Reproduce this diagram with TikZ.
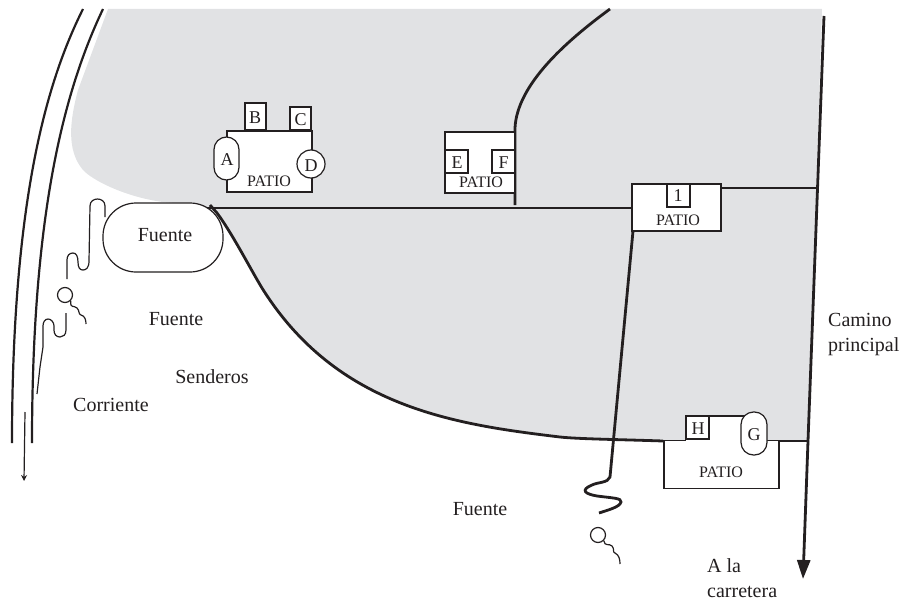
\documentclass[tikz,border=0pt]{standalone}
\usepackage{fontspec}
\setmainfont{Liberation Serif}
\usetikzlibrary{arrows.meta}
\definecolor{areagray}{HTML}{E1E2E4}
\definecolor{ink}{HTML}{231F20}
\tikzset{
  x=1pt,y=-1pt,
  lbl/.style={inner sep=0pt,text=ink,font=\fontsize{20}{24}\selectfont},
  sm/.style={inner sep=0pt,text=ink,font=\fontsize{16}{18}\selectfont},
  let/.style={inner sep=0pt,text=ink,font=\fontsize{18}{20}\selectfont},
  road/.style={draw=ink,line width=2.8pt},
  thin path/.style={draw=ink,line width=1.2pt},
  box/.style={draw=ink,line width=1.2pt,fill=white},
}
\begin{document}
\begin{tikzpicture}
\useasboundingbox (0,0) rectangle (902,602);
\fill[areagray] (217,213) .. controls (232,233) and (251,270) .. (262,288)
  .. controls (337,408) and (456,424.5) .. (560,437)
  .. controls (578,439) and (620,439.5) .. (663,441)
  -- (808,441) -- (822,9) -- (108,9) -- (78,90)
  .. controls (70,120) and (66,150) .. (83,170)
  .. controls (92,180) and (125,197) .. (163,202) -- (200,205) -- cycle;
% stream
\draw[road,line width=2.2pt] (83,9) .. controls (50,75) and (12,190) .. (12,443);
\draw[road,line width=2.2pt] (103,9) .. controls (62,95) and (32,220) .. (32,443);
\coordinate (streamS) at (25,412);
\coordinate (streamE) at (24,481);
\draw[thin path,-{Stealth[length=6pt,width=6pt]}] (streamS) -- (streamE);
% roads
\coordinate (rdTop) at (824,16);
\coordinate (rdJoin) at (808,441);
\coordinate (rdEnd) at (803,579);
\draw[road] (rdTop) -- (rdJoin);
\draw[road,-{Triangle[length=19pt,width=13pt]}] (rdJoin) -- (rdEnd);
\draw[road] (210,205) -- (217,213) .. controls (232,233) and (251,270) .. (262,288)
  .. controls (337,408) and (456,424.5) .. (560,437)
  .. controls (578,439) and (620,439.5) .. (663,441);
\draw[road] (779,441) -- (rdJoin);
\draw[road] (205,208) -- (633,208);
\draw[road] (721,188) -- (818,188);
\draw[road] (515,205) -- (515,128) .. controls (517,85) and (565,42) .. (610,9);
\draw[road] (633,231) -- (610,477) .. controls (608,483) and (598,482) .. (592,485)
  .. controls (580,490) and (585,494) .. (597,496)
  .. controls (612,498) and (622,498) .. (621,502)
  .. controls (620,507) and (608,510) .. (599,513);
% thin paths
\draw[thin path] (105,217) -- (105,206) .. controls (105,201) and (101,199) .. (97.5,199)
  .. controls (94,199) and (90,201) .. (90,206) -- (89,261) .. controls (89,268) and (86,270) .. (83,270)
  .. controls (80,270) and (78,268) .. (78,262) .. controls (78,256) and (76,253) .. (73,253)
  .. controls (69,253) and (67,256) .. (67,260) -- (67,279);
\draw[thin path] (66,313) -- (66,330) .. controls (66,335) and (63,337) .. (60,337)
  .. controls (56,337) and (54,334) .. (54,330) -- (54,326)
  .. controls (54,322) and (51,319) .. (48,319) .. controls (45,319) and (43,322) .. (43,326)
  -- (43,347) -- (40,367) -- (37,394);
% walkers
\node[circle,draw=ink,line width=1.2pt,minimum size=15pt,inner sep=0pt] (w1) at (65,295) {};
\draw[thin path] (w1.south east) .. controls (70,309) and (74,305) .. (77,308)
  .. controls (80,311) and (78,314) .. (81,315) .. controls (85,316) and (86,320) .. (86,324);
\node[circle,draw=ink,line width=1.2pt,minimum size=15pt,inner sep=0pt] (w2) at (598,535) {};
\draw[thin path] (w2.south east) .. controls (605,547) and (609,543) .. (612,546)
  .. controls (615,549) and (612,552) .. (615,553) .. controls (619,555) and (620,559) .. (620,564);
% fountain
\node[box,rounded corners=33pt,minimum width=120pt,minimum height=69pt,inner sep=0pt] (fuente) at (163,237.5) {};
\node[lbl] at (165,235) {Fuente};
% patio AD
\node[box,minimum width=85pt,minimum height=61pt] (pa) at (269.5,161.5) {};
\node[sm] at (269,181) {PATIO};
\node[box,minimum width=21pt,minimum height=27pt] (b) at (255.5,116.5) {};
\node[let] at (255,118) {B};
\node[box,minimum width=21pt,minimum height=23pt] (c) at (300.5,118.5) {};
\node[let] at (300.5,120) {C};
\node[box,rounded corners=12.5pt,minimum width=25pt,minimum height=43pt] (a) at (226.5,158.5) {};
\node[let] at (227,160) {A};
\node[box,circle,minimum size=28pt,inner sep=0pt] (d) at (311,164) {};
\node[let] at (311,166) {D};
% patio EF
\node[box,minimum width=70pt,minimum height=61pt] (pe) at (480,162.5) {};
\node[sm] at (481,182) {PATIO};
\node[box,minimum width=23pt,minimum height=23pt] (e) at (456.5,161.5) {};
\node[let] at (457,162.5) {E};
\node[box,minimum width=23pt,minimum height=23pt] (f) at (503.5,161.5) {};
\node[let] at (503.5,162.5) {F};
% patio 1
\node[box,minimum width=89pt,minimum height=47pt] (p1) at (676.5,207.5) {};
\node[sm] at (678,220) {PATIO};
\node[box,minimum width=23pt,minimum height=23pt] (one) at (678.5,195.5) {};
\node[let] at (678,196) {1};
% patio G
\node[box,minimum width=115pt,minimum height=48pt] (pg) at (721.5,464.5) {};
\fill[white] (686,416) rectangle (745,441.2);
\draw[draw=ink,line width=1.2pt] (709,416) -- (745,416);
\node[box,minimum width=23pt,minimum height=23pt] (h) at (697.5,427.5) {};
\node[let] at (698,428.5) {H};
\node[box,rounded corners=12.5pt,minimum width=26pt,minimum height=43pt] (g) at (754,433.5) {};
\node[let] at (754,435) {G};
\node[sm] at (721,472) {PATIO};
% labels
\node[lbl] at (176,319) {Fuente};
\node[lbl] at (212,377) {Senderos};
\node[lbl] at (111,405) {Corriente};
\node[lbl] at (480,509) {Fuente};
\node[lbl,anchor=base west] at (828,326) {Camino};
\node[lbl,anchor=base west] at (828,351) {principal};
\node[lbl,anchor=base west] at (707,572) {A la};
\node[lbl,anchor=base west] at (707,597) {carretera};
\end{tikzpicture}
\end{document}
